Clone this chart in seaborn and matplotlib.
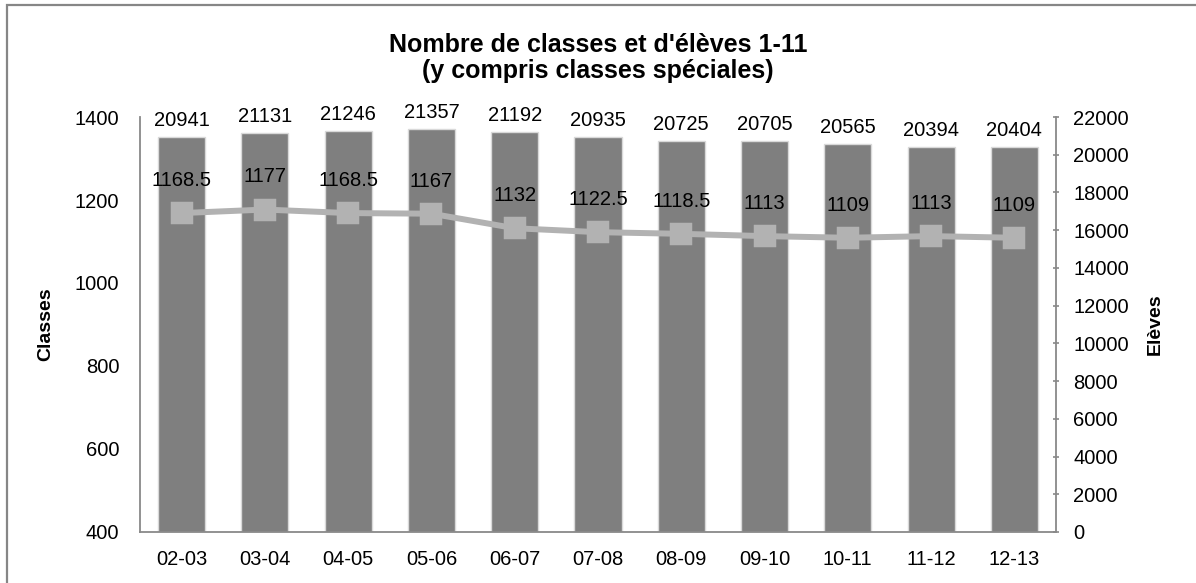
import matplotlib
matplotlib.use("Agg")
import matplotlib.pyplot as plt
from matplotlib.patches import Rectangle
import seaborn as sns

# school years, pupils (bars, right axis) and classes (line, left axis)
years = ["02-03", "03-04", "04-05", "05-06", "06-07", "07-08",
         "08-09", "09-10", "10-11", "11-12", "12-13"]
eleves = [20941, 21131, 21246, 21357, 21192, 20935,
          20725, 20705, 20565, 20394, 20404]
classes = [1168.5, 1177, 1168.5, 1167, 1132, 1122.5,
           1118.5, 1113, 1109, 1113, 1109]

sns.set_theme(style="white")
plt.rcParams["font.family"] = ["Liberation Sans", "DejaVu Sans"]
plt.rcParams["text.color"] = "black"
plt.rcParams["axes.labelcolor"] = "black"


def main():
    fig, ax = plt.subplots(figsize=(11.96, 5.83), dpi=100)
    fig.subplots_adjust(left=0.1171, right=0.8829, bottom=0.0875, top=0.7993)
    ax2 = ax.twinx()

    # bars: pupils, drawn on the primary axes but with the scale on the right
    sns.barplot(x=years, y=eleves, ax=ax, color="#7F7F7F", saturation=1,
                width=0.565, edgecolor="#D9D9D9", linewidth=1)
    ax.set_ylim(0, 22000)
    ax.set_yticks(range(0, 22001, 2000))
    ax.yaxis.tick_right()
    ax.yaxis.set_label_position("right")
    ax.set_ylabel("Elèves", fontsize=14, fontweight="bold", va="center")
    ax.yaxis.set_label_coords(1.108, 0.5)
    ax.tick_params(axis="y", direction="inout", length=5, width=1.2,
                   color="#898989", pad=10, labelsize=14.5, labelcolor="black")
    ax.tick_params(axis="x", length=0, pad=13, labelsize=14.5, labelcolor="black")
    ax.bar_label(ax.containers[0], fmt="%d", padding=5, fontsize=14.5,
                 color="black")

    # line: classes on the left axis
    sns.pointplot(x=years, y=classes, ax=ax2, color="#B2B2B2", markers="s",
                  markersize=13, linewidth=4.3, errorbar=None)
    ax2.set_ylim(400, 1400)
    ax2.set_yticks(range(400, 1401, 200))
    ax2.yaxis.tick_left()
    ax2.yaxis.set_label_position("left")
    ax2.set_ylabel("Classes", fontsize=14, fontweight="bold", va="center")
    ax2.yaxis.set_label_coords(-0.103, 0.5)
    ax2.set_xlabel("")
    ax2.tick_params(axis="y", length=0, pad=15, labelsize=14.5, labelcolor="black")
    for i, v in enumerate(classes):
        ax2.annotate(f"{v:g}", (i, v), xytext=(0, 23.5), textcoords="offset points",
                     ha="center", va="center", fontsize=14.5, color="black")

    for a in (ax, ax2):
        for side in a.spines:
            a.spines[side].set_visible(False)
    ax2.spines["left"].set_visible(True)
    ax.spines["right"].set_visible(True)
    ax.spines["bottom"].set_visible(True)
    for s in (ax2.spines["left"], ax.spines["right"], ax.spines["bottom"]):
        s.set_color("#898989")
        s.set_linewidth(1.3)

    fig.text(0.5, 1 - 58 / 583,
             "Nombre de classes et d'élèves 1-11\n(y compris classes spéciales)",
             ha="center", va="center", fontsize=18, fontweight="bold",
             linespacing=1.1, color="black")

    # chart frame
    fig.patches.append(Rectangle((7 / 1196, -0.05), 1.1, 1.05 - 5 / 583,
                                 transform=fig.transFigure, fill=False,
                                 edgecolor="#868686", linewidth=1.6,
                                 clip_on=False))

    plt.savefig("out.png", dpi=100)


if __name__ == "__main__":
    main()
